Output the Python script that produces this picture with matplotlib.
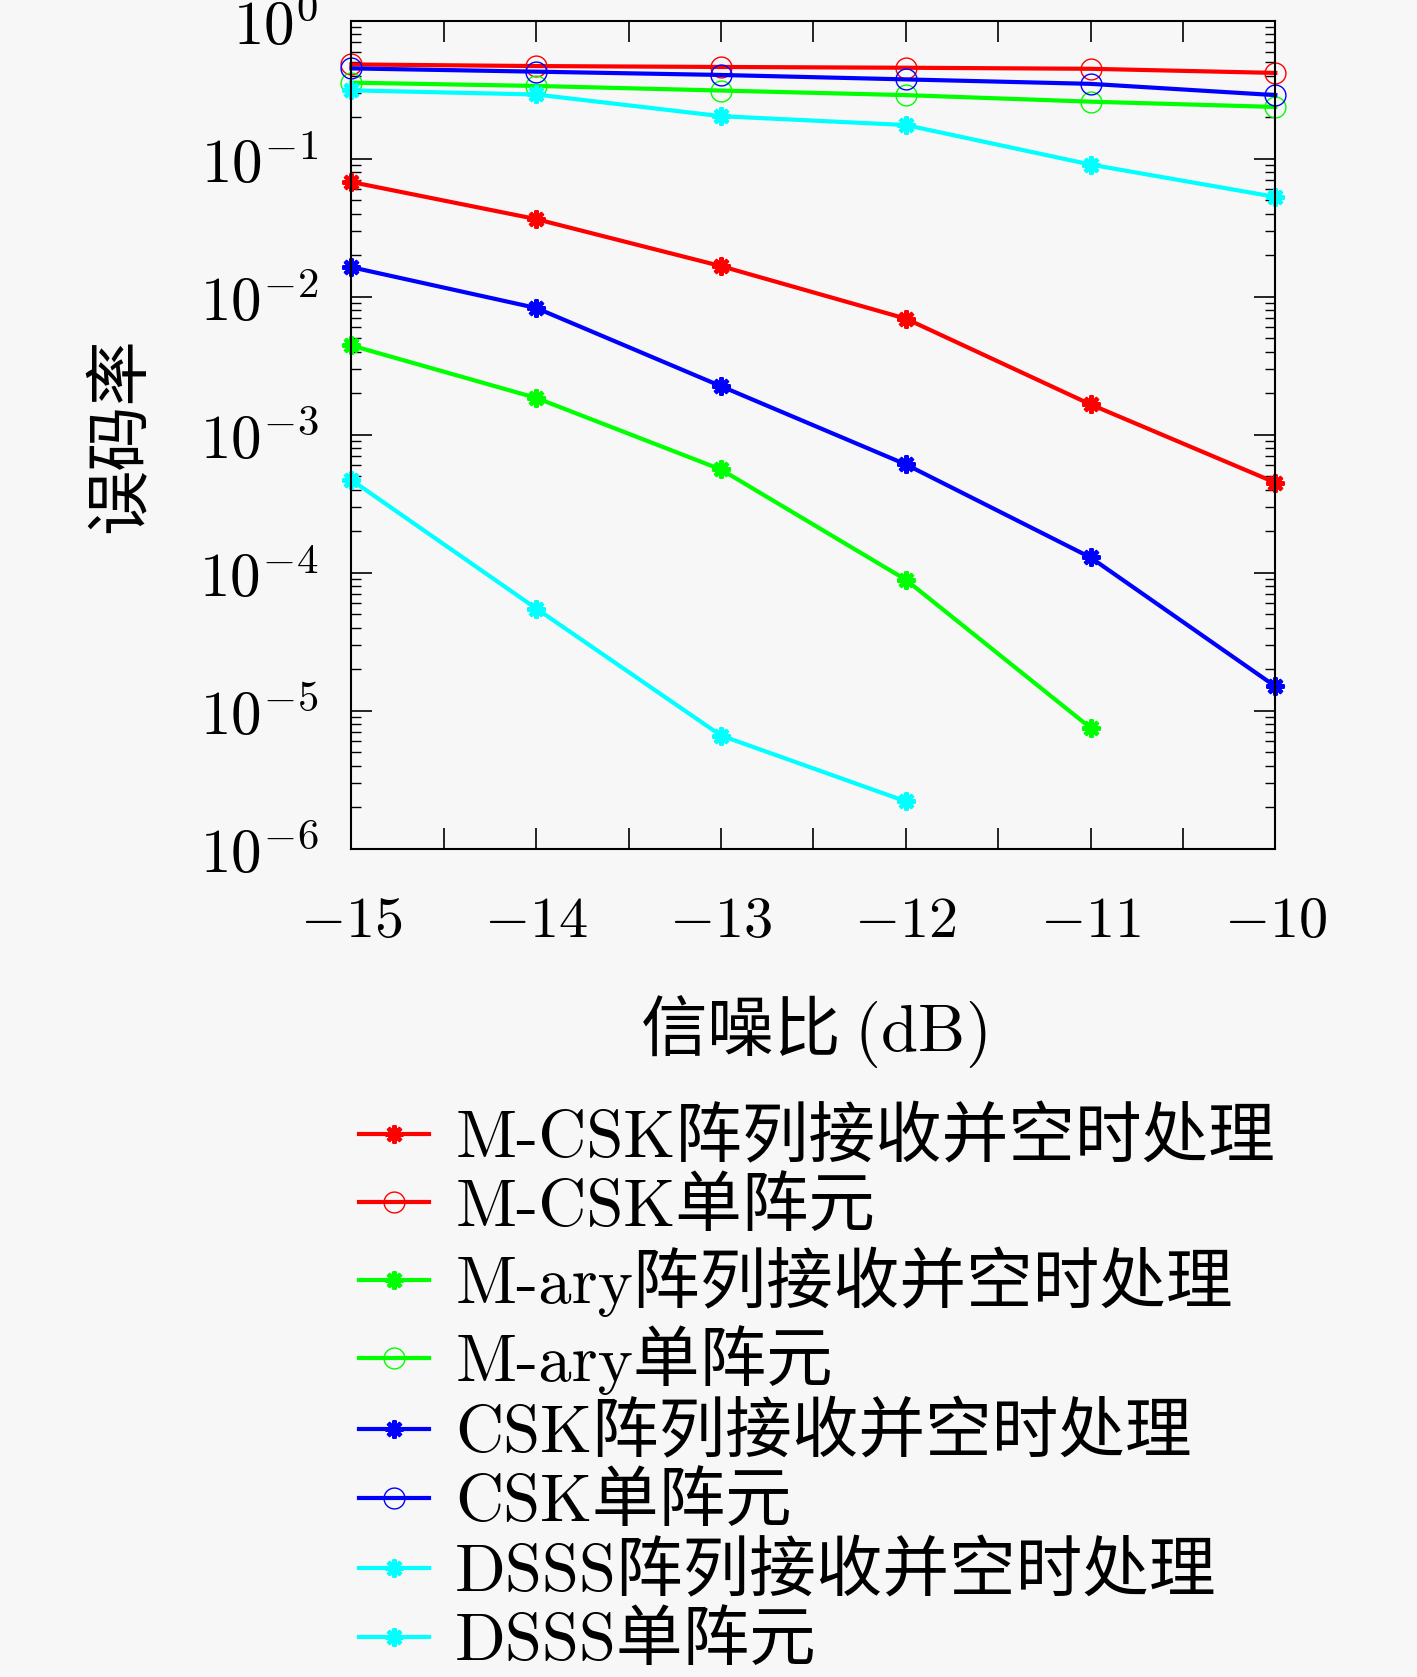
import numpy as np
import matplotlib
matplotlib.use("Agg")
import matplotlib.pyplot as plt
from matplotlib.ticker import LogLocator, FixedLocator

plt.rcParams['mathtext.fontset'] = 'cm'
plt.rcParams['font.family'] = ['Noto Sans CJK SC', 'DejaVu Sans']

snr = [-15, -14, -13, -12, -11, -10]

# bit error rates
mcsk_array = [0.068, 0.0366, 0.0167, 0.00695, 0.00166, 0.00045]
mcsk_single = [0.484, 0.471, 0.464, 0.458, 0.45, 0.42]
mary_array = [0.00444, 0.00185, 0.00056, 0.000089, 0.0000075]
mary_single = [0.357, 0.338, 0.313, 0.29, 0.26, 0.238]
csk_array = [0.0164, 0.0083, 0.00225, 0.00061, 0.000129, 0.000015]
csk_single = [0.453, 0.429, 0.406, 0.377, 0.35, 0.29]
dsss_array = [0.00047, 0.000055, 0.0000066, 0.0000022]
dsss_single = [0.314, 0.293, 0.204, 0.176, 0.091, 0.053]

labels = ['M-CSK阵列接收并空时处理', 'M-CSK单阵元',
          'M-ary阵列接收并空时处理', 'M-ary单阵元',
          'CSK阵列接收并空时处理', 'CSK单阵元',
          'DSSS阵列接收并空时处理', 'DSSS单阵元']

bg = '#f7f7f7'
fig = plt.figure(figsize=(14.17, 16.77), dpi=100, facecolor=bg)
ax = fig.add_axes([0.248, 0.494, 0.652, 0.4935])
ax.set_facecolor(bg)

lw = 3.0
star = dict(marker=(8, 2, 0), ms=13, mew=3.0)
circ = dict(marker='o', ms=15, mfc='none', mew=1.0)

series = [
    (mcsk_array, 'red', star),
    (mcsk_single, 'red', circ),
    (mary_array, '#00ff00', star),
    (mary_single, '#00ff00', circ),
    (csk_array, 'blue', star),
    (csk_single, 'blue', circ),
    (dsss_array, 'cyan', star),
    (dsss_single, 'cyan', star),
]
for (vals, col, mk), lab in zip(series, labels):
    ax.plot(snr[:len(vals)], vals, color=col, lw=lw, label=lab, clip_on=False, **mk)

ax.set_yscale('log')
ax.set_xlim(-15, -10)
ax.set_ylim(1e-6, 1)
xt = np.arange(-15, -9.9, 0.5)
ax.xaxis.set_major_locator(FixedLocator(xt))
ax.set_xticklabels([('$-%d$' % abs(v)) if float(v).is_integer() else '' for v in xt])
ax.yaxis.set_minor_locator(LogLocator(base=10, subs=np.arange(2, 10), numticks=10))
ax.set_yticks([10.0 ** k for k in range(-6, 1)])
ax.set_yticklabels(['$10^{%d}$' % k for k in range(-6, 1)])

ax.tick_params(axis='both', which='major', direction='in', length=15, width=1.2,
               top=True, right=True)
ax.tick_params(axis='y', which='minor', direction='in', length=7, width=1.0,
               left=True, right=True)
ax.tick_params(axis='x', labelsize=42, pad=30)
ax.tick_params(axis='y', labelsize=44, pad=24)
for s in ax.spines.values():
    s.set_linewidth(1.5)

ax.set_xlabel('信噪比 $(\\mathrm{dB})$', fontsize=48, labelpad=30)
ax.set_ylabel('误码率', fontsize=47, labelpad=32)

fig.legend(loc='upper left', bbox_to_anchor=(0.253, 0.3395), frameon=False,
           prop={'family': ['cmr10', 'Noto Sans CJK SC'], 'size': 48},
           handlelength=1.05, handletextpad=0.4, labelspacing=0.12,
           borderpad=0, borderaxespad=0)

fig.savefig('out.png', dpi=100, facecolor=bg)
